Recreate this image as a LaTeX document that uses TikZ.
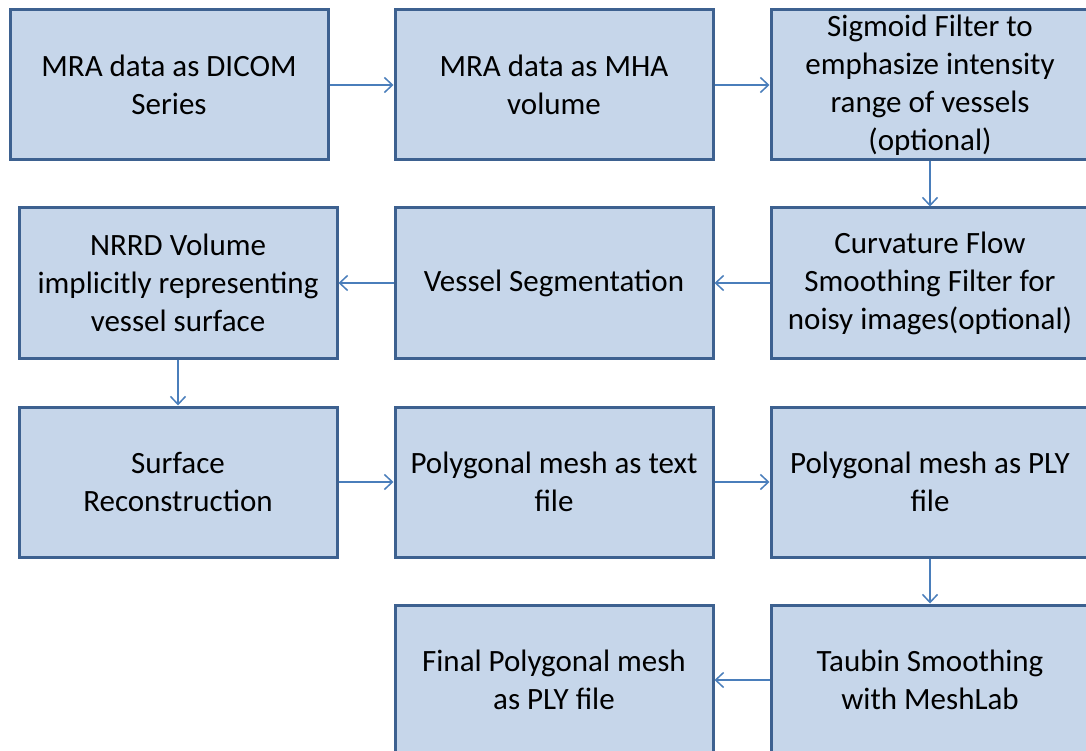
\documentclass[tikz,border=0pt]{standalone}
\usepackage{fontspec}
\setmainfont{Carlito}
\usetikzlibrary{arrows.meta}

\definecolor{boxfill}{HTML}{C6D6EA}
\definecolor{boxline}{HTML}{3D6190}
\definecolor{arrowblue}{HTML}{4A7EBB}

\begin{document}
\begin{tikzpicture}[x=1pt, y=-1pt,
    stage/.style={draw=boxline, fill=boxfill, line width=3pt, minimum width=318pt,
        minimum height=150pt, inner sep=0pt, align=center,
        font=\fontsize{31}{38}\selectfont},
    flow/.style={draw=arrowblue, line width=1.5pt, -{Straight Barb[length=8pt, width=15pt]}}]

    \useasboundingbox (0,0) rectangle (1086,751);
    \clip (0,0) rectangle (1086,751);

    % Row 1: input data and sigmoid filter
    \node[stage] (dicom) at (169,85) {MRA data as DICOM\\Series};
    \node[stage] (mha) at (554,85) {MRA data as MHA\\volume};
    \node[stage] (sigmoid) at (930,85) {Sigmoid Filter to\\emphasize intensity\\range of vessels\\(optional)};

    % Row 2: smoothing and segmentation
    \node[stage] (nrrd) at (178,283) {NRRD Volume\\implicitly representing\\vessel surface};
    \node[stage] (segment) at (554,283) {Vessel Segmentation};
    \node[stage] (curvature) at (930,283) {Curvature Flow\\Smoothing Filter for\\noisy images(optional)};

    % Row 3: reconstruction and meshes
    \node[stage] (surface) at (178,482) {Surface\\Reconstruction};
    \node[stage] (meshtext) at (554,482) {Polygonal mesh as text\\file};
    \node[stage] (meshply) at (930,482) {Polygonal mesh as PLY\\file};

    % Row 4: final smoothing
    \node[stage] (final) at (554,680) {Final Polygonal mesh\\as PLY file};
    \node[stage] (taubin) at (930,680) {Taubin Smoothing\\with MeshLab};

    % Connectors
    \draw[flow] (dicom) -- (mha);
    \draw[flow] (mha) -- (sigmoid);
    \draw[flow] (sigmoid) -- (curvature);
    \draw[flow] (curvature) -- (segment);
    \draw[flow] (segment) -- (nrrd);
    \draw[flow] (nrrd) -- (surface);
    \draw[flow] (surface) -- (meshtext);
    \draw[flow] (meshtext) -- (meshply);
    \draw[flow] (meshply) -- (taubin);
    \draw[flow] (taubin) -- (final);

\end{tikzpicture}
\end{document}
